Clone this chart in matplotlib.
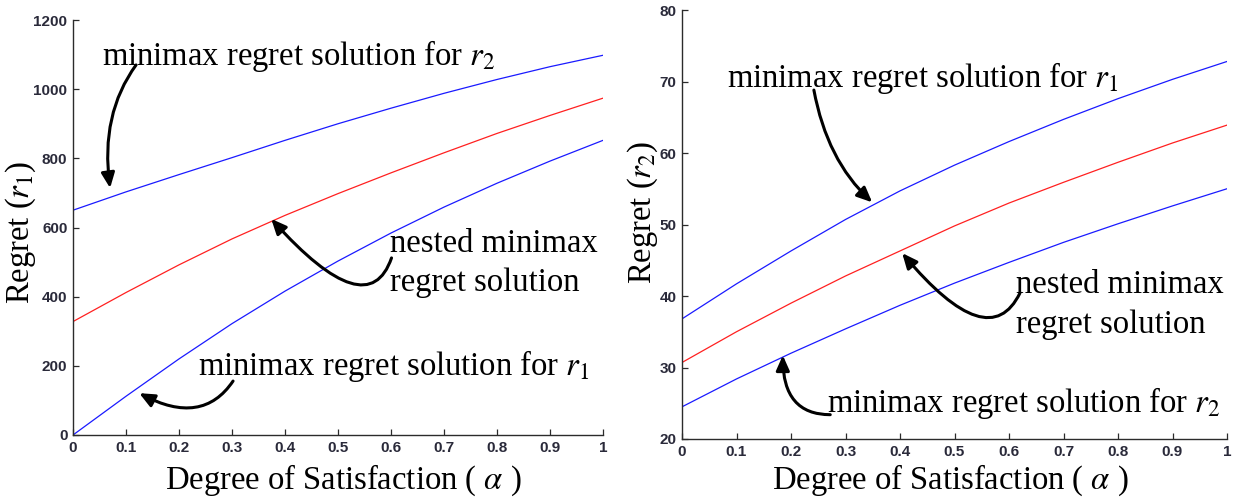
import matplotlib
matplotlib.use("Agg")
import matplotlib.pyplot as plt
import numpy as np

# ---------------- data ----------------
alpha = [0.0, 0.1, 0.2, 0.3, 0.4, 0.5, 0.6, 0.7, 0.8, 0.9, 1.0]

# left panel: Regret (r1)
r1_sol_r2 = [650, 703, 753, 802, 852, 900, 945, 988, 1028, 1065, 1098]
r1_nested = [328, 412, 492, 567, 635, 698, 758, 816, 872, 924, 974]
r1_sol_r1 = [0, 112, 220, 322, 416, 503, 584, 659, 728, 792, 852]

# right panel: Regret (r2)
r2_sol_r1 = [36.8, 41.7, 46.3, 50.7, 54.7, 58.3, 61.6, 64.7, 67.6, 70.3, 72.8]
r2_nested = [30.7, 35.0, 39.0, 42.8, 46.3, 49.8, 53.0, 55.9, 58.7, 61.4, 63.9]
r2_sol_r2 = [24.5, 28.4, 32.0, 35.4, 38.7, 41.8, 44.7, 47.5, 50.1, 52.6, 55.0]

xticks = [0, 0.1, 0.2, 0.3, 0.4, 0.5, 0.6, 0.7, 0.8, 0.9, 1]
xticklabels = ["0", "0.1", "0.2", "0.3", "0.4", "0.5", "0.6", "0.7", "0.8", "0.9", "1"]
left_yticks = [0, 200, 400, 600, 800, 1000, 1200]
right_yticks = [20, 30, 40, 50, 60, 70, 80]

# ---------------- style ----------------
plt.rcParams["mathtext.fontset"] = "stix"
SERIF = ["Liberation Serif", "DejaVu Serif"]
TICKFONT = dict(family=["Liberation Sans Narrow", "Liberation Sans", "DejaVu Sans"],
                size=11, weight="bold")
AXCOL = "#2b2b2b"
TICKCOL = "#2a2a3a"
BLUE = "#1a1aff"
RED = "#ff2020"
FS = 23.5

fig = plt.figure(figsize=(12.41, 5.03), dpi=100)
axL = fig.add_axes([73 / 1241, 68 / 503, 530 / 1241, 415 / 503])
axR = fig.add_axes([682 / 1241, 64 / 503, 545 / 1241, 429 / 503])


def style(ax, yticks, ylim):
    ax.set_xlim(0, 1)
    ax.set_ylim(*ylim)
    ax.set_xticks(xticks)
    ax.set_xticklabels(xticklabels)
    ax.set_yticks(yticks)
    ax.set_yticklabels([str(v) for v in yticks])
    for s in ("top", "right"):
        ax.spines[s].set_visible(False)
    for s in ("left", "bottom"):
        ax.spines[s].set_color(AXCOL)
        ax.spines[s].set_linewidth(1.0)
    ax.tick_params(direction="in", length=4, width=0.9, color=AXCOL,
                   labelcolor=TICKCOL, pad=4)
    for lab in ax.get_xticklabels() + ax.get_yticklabels():
        lab.set_fontfamily(TICKFONT["family"])
        lab.set_fontsize(TICKFONT["size"])
        lab.set_fontweight(TICKFONT["weight"])
    ax.patch.set_alpha(0)


style(axL, left_yticks, (0, 1200))
style(axR, right_yticks, (20, 80))

lw = 0.9
axL.plot(alpha, r1_sol_r2, color=BLUE, lw=lw)
axL.plot(alpha, r1_nested, color=RED, lw=lw)
axL.plot(alpha, r1_sol_r1, color=BLUE, lw=lw)

axR.plot(alpha, r2_sol_r1, color=BLUE, lw=lw)
axR.plot(alpha, r2_nested, color=RED, lw=lw)
axR.plot(alpha, r2_sol_r2, color=BLUE, lw=lw)

# axis labels
for ax, lab, yc, xc in ((axL, r"Regret ($r_1$)", (-0.098, 0.489), (0.51, -0.108)),
                        (axR, r"Regret ($r_2$)", (-0.072, 0.529), (0.492, -0.097))):
    ax.set_ylabel(lab, fontsize=FS, family=SERIF, va="center")
    ax.yaxis.set_label_coords(*yc)
    ax.set_xlabel(r"Degree of Satisfaction ( $\alpha$ )", fontsize=FS, family=SERIF, va="center")
    ax.xaxis.set_label_coords(*xc)

# annotation texts
def txt(ax, x, y, s):
    ax.text(x, y, s, fontsize=FS, family=SERIF, ha="left", va="baseline", color="black")

txt(axL, 0.055, 1070, r"minimax regret solution for $r_2$")
txt(axL, 0.599, 529, "nested minimax")
txt(axL, 0.599, 415, "regret solution")
txt(axL, 0.236, 173, r"minimax regret solution for $r_1$")

txt(axR, 0.083, 69.3, r"minimax regret solution for $r_1$")
txt(axR, 0.612, 40.4, "nested minimax")
txt(axR, 0.612, 34.8, "regret solution")
txt(axR, 0.2655, 23.8, r"minimax regret solution for $r_2$")

# curved arrows
def arrow(ax, tail, tip, aA, aB):
    ax.annotate("", xy=tip, xytext=tail,
                arrowprops=dict(arrowstyle="-|>,head_length=0.9,head_width=0.4",
                                connectionstyle=f"angle3,angleA={aA},angleB={aB}",
                                color="black", lw=2.2, shrinkA=0, shrinkB=0))

arrow(axL, (0.119, 1070), (0.070, 714), -126, 97.6)
arrow(axL, (0.601, 512), (0.374, 625), -109, -48)
arrow(axL, (0.302, 156), (0.125, 121), -124, -28)

arrow(axR, (0.242, 68.8), (0.349, 53.1), -79.5, 137)
arrow(axR, (0.620, 40.4), (0.404, 46.0), -116, -50)
arrow(axR, (0.272, 23.4), (0.185, 31.7), 180, 90)

fig.savefig("out.png", dpi=100)
